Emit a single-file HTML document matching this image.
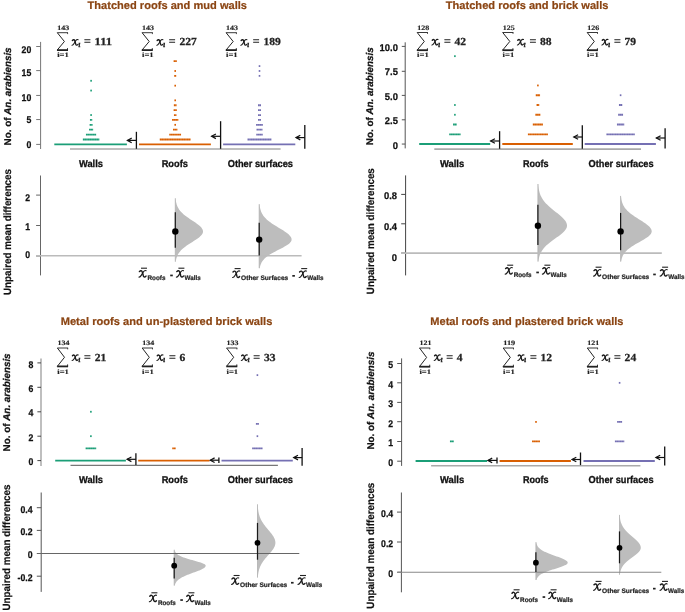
<!DOCTYPE html>
<html><head><meta charset="utf-8"><title>Chart</title>
<style>
html,body{margin:0;padding:0;background:#fff;}
body{width:685px;height:612px;overflow:hidden;font-family:"Liberation Sans", sans-serif;}
svg{display:block;will-change:transform;text-rendering:geometricPrecision;}
</style></head>
<body>
<svg width="685" height="612" viewBox="0 0 685 612">
<rect width="685" height="612" fill="#fff"/>
<text x="87.5" y="8.8" font-family='"Liberation Sans", sans-serif' font-weight="bold" font-size="11" fill="#8b4513" stroke="#8b4513" stroke-width="0.2" textLength="159.5" lengthAdjust="spacingAndGlyphs">Thatched roofs and mud walls</text>
<text transform="translate(10.6,96.4) rotate(-90)" text-anchor="middle" font-family='"Liberation Sans", sans-serif' font-weight="bold" font-size="9.8" fill="#111" stroke="#111" stroke-width="0.25" textLength="98" lengthAdjust="spacingAndGlyphs">No. of <tspan font-style="italic">An. arabiensis</tspan></text>
<line x1="40.6" y1="41.9" x2="40.6" y2="149" stroke="#777" stroke-width="1" />
<line x1="36.2" y1="144.4" x2="40.6" y2="144.4" stroke="#777" stroke-width="1" />
<text transform="translate(31.3,148.45) scale(0.9,1)" text-anchor="end" font-family='"Liberation Sans", sans-serif' font-weight="bold" font-size="9.7" fill="#111" stroke="#111" stroke-width="0.25">0</text>
<line x1="36.2" y1="119.55" x2="40.6" y2="119.55" stroke="#777" stroke-width="1" />
<text transform="translate(31.3,123.15) scale(0.9,1)" text-anchor="end" font-family='"Liberation Sans", sans-serif' font-weight="bold" font-size="9.7" fill="#111" stroke="#111" stroke-width="0.25">5</text>
<line x1="36.2" y1="95.45" x2="40.6" y2="95.45" stroke="#777" stroke-width="1" />
<text transform="translate(31.3,100.55) scale(0.9,1)" text-anchor="end" font-family='"Liberation Sans", sans-serif' font-weight="bold" font-size="9.7" fill="#111" stroke="#111" stroke-width="0.25">10</text>
<line x1="36.2" y1="70.6" x2="40.6" y2="70.6" stroke="#777" stroke-width="1" />
<text transform="translate(31.3,76.3) scale(0.9,1)" text-anchor="end" font-family='"Liberation Sans", sans-serif' font-weight="bold" font-size="9.7" fill="#111" stroke="#111" stroke-width="0.25">15</text>
<line x1="36.2" y1="46.5" x2="40.6" y2="46.5" stroke="#777" stroke-width="1" />
<text transform="translate(31.3,52.7) scale(0.9,1)" text-anchor="end" font-family='"Liberation Sans", sans-serif' font-weight="bold" font-size="9.7" fill="#111" stroke="#111" stroke-width="0.25">20</text>
<path d="M57.3,32.7 L64.4,41.5 L57.2,50.1" fill="none" stroke="#222" stroke-width="1.0"/>
<line x1="57.2" y1="32.7" x2="68" y2="32.7" stroke="#222" stroke-width="0.9"/>
<line x1="67.6" y1="32.7" x2="67.6" y2="34.1" stroke="#222" stroke-width="0.8"/>
<line x1="57" y1="50.1" x2="68" y2="50.1" stroke="#222" stroke-width="1.8"/>
<line x1="67.5" y1="50.1" x2="67.5" y2="48.1" stroke="#222" stroke-width="0.9"/>
<text x="57.3" y="29.7" font-family='"Liberation Serif", serif' font-weight="bold" font-size="6.8" fill="#222" stroke="#222" stroke-width="0.15" textLength="12" lengthAdjust="spacingAndGlyphs">143</text>
<text x="57.2" y="57.3" font-family='"Liberation Serif", serif' font-weight="bold" font-size="6.8" fill="#222" stroke="#222" stroke-width="0.15" textLength="11.6" lengthAdjust="spacingAndGlyphs">i=1</text>
<g transform="translate(71.48,37.57) scale(0.86)"><path d="M1,3.4 C2.2,2 3.6,2.3 4,4.1 L5,7.8 C5.4,9 6.5,9.3 7.6,7.9" fill="none" stroke="#1a1a1a" stroke-width="1.55" stroke-linecap="round"/><path d="M7.7,2.5 C6.6,1.9 5.7,2.6 5,3.6 L3,6.9 C2.3,8.1 1.6,9 0.6,8.9" fill="none" stroke="#1a1a1a" stroke-width="1.25" stroke-linecap="round"/></g>
<text x="78.2" y="47.1" font-family='"Liberation Serif", serif' font-style="italic" font-size="8.5" fill="#222" stroke="#222" stroke-width="0.5">&#x131;</text>
<text x="84" y="45.2" font-family='"Liberation Serif", serif' font-size="12" fill="#222" stroke="#222" stroke-width="0.3">=</text>
<text x="94.6" y="45.4" font-family='"Liberation Serif", serif' font-weight="bold" font-size="10.8" fill="#222" stroke="#222" stroke-width="0.25" textLength="17.4" lengthAdjust="spacingAndGlyphs">111</text>
<path d="M142.1,32.7 L149.2,41.5 L142,50.1" fill="none" stroke="#222" stroke-width="1.0"/>
<line x1="142" y1="32.7" x2="152.8" y2="32.7" stroke="#222" stroke-width="0.9"/>
<line x1="152.4" y1="32.7" x2="152.4" y2="34.1" stroke="#222" stroke-width="0.8"/>
<line x1="141.8" y1="50.1" x2="152.8" y2="50.1" stroke="#222" stroke-width="1.8"/>
<line x1="152.3" y1="50.1" x2="152.3" y2="48.1" stroke="#222" stroke-width="0.9"/>
<text x="142.1" y="29.7" font-family='"Liberation Serif", serif' font-weight="bold" font-size="6.8" fill="#222" stroke="#222" stroke-width="0.15" textLength="12" lengthAdjust="spacingAndGlyphs">143</text>
<text x="142" y="57.3" font-family='"Liberation Serif", serif' font-weight="bold" font-size="6.8" fill="#222" stroke="#222" stroke-width="0.15" textLength="11.6" lengthAdjust="spacingAndGlyphs">i=1</text>
<g transform="translate(156.28,37.57) scale(0.86)"><path d="M1,3.4 C2.2,2 3.6,2.3 4,4.1 L5,7.8 C5.4,9 6.5,9.3 7.6,7.9" fill="none" stroke="#1a1a1a" stroke-width="1.55" stroke-linecap="round"/><path d="M7.7,2.5 C6.6,1.9 5.7,2.6 5,3.6 L3,6.9 C2.3,8.1 1.6,9 0.6,8.9" fill="none" stroke="#1a1a1a" stroke-width="1.25" stroke-linecap="round"/></g>
<text x="163" y="47.1" font-family='"Liberation Serif", serif' font-style="italic" font-size="8.5" fill="#222" stroke="#222" stroke-width="0.5">&#x131;</text>
<text x="168.8" y="45.2" font-family='"Liberation Serif", serif' font-size="12" fill="#222" stroke="#222" stroke-width="0.3">=</text>
<text x="179.4" y="45.4" font-family='"Liberation Serif", serif' font-weight="bold" font-size="10.8" fill="#222" stroke="#222" stroke-width="0.25" textLength="17.4" lengthAdjust="spacingAndGlyphs">227</text>
<path d="M226.1,32.7 L233.2,41.5 L226,50.1" fill="none" stroke="#222" stroke-width="1.0"/>
<line x1="226" y1="32.7" x2="236.8" y2="32.7" stroke="#222" stroke-width="0.9"/>
<line x1="236.4" y1="32.7" x2="236.4" y2="34.1" stroke="#222" stroke-width="0.8"/>
<line x1="225.8" y1="50.1" x2="236.8" y2="50.1" stroke="#222" stroke-width="1.8"/>
<line x1="236.3" y1="50.1" x2="236.3" y2="48.1" stroke="#222" stroke-width="0.9"/>
<text x="226.1" y="29.7" font-family='"Liberation Serif", serif' font-weight="bold" font-size="6.8" fill="#222" stroke="#222" stroke-width="0.15" textLength="12" lengthAdjust="spacingAndGlyphs">143</text>
<text x="226" y="57.3" font-family='"Liberation Serif", serif' font-weight="bold" font-size="6.8" fill="#222" stroke="#222" stroke-width="0.15" textLength="11.6" lengthAdjust="spacingAndGlyphs">i=1</text>
<g transform="translate(240.28,37.57) scale(0.86)"><path d="M1,3.4 C2.2,2 3.6,2.3 4,4.1 L5,7.8 C5.4,9 6.5,9.3 7.6,7.9" fill="none" stroke="#1a1a1a" stroke-width="1.55" stroke-linecap="round"/><path d="M7.7,2.5 C6.6,1.9 5.7,2.6 5,3.6 L3,6.9 C2.3,8.1 1.6,9 0.6,8.9" fill="none" stroke="#1a1a1a" stroke-width="1.25" stroke-linecap="round"/></g>
<text x="247" y="47.1" font-family='"Liberation Serif", serif' font-style="italic" font-size="8.5" fill="#222" stroke="#222" stroke-width="0.5">&#x131;</text>
<text x="252.8" y="45.2" font-family='"Liberation Serif", serif' font-size="12" fill="#222" stroke="#222" stroke-width="0.3">=</text>
<text x="263.4" y="45.4" font-family='"Liberation Serif", serif' font-weight="bold" font-size="10.8" fill="#222" stroke="#222" stroke-width="0.25" textLength="17.4" lengthAdjust="spacingAndGlyphs">189</text>
<line x1="70" y1="149" x2="280.6" y2="149" stroke="#aaa" stroke-width="1.6" />
<line x1="54.3" y1="144.4" x2="126.9" y2="144.4" stroke="#1b9e77" stroke-width="1.9"/>
<line x1="82.85" y1="139.5" x2="99.35" y2="139.5" stroke="#1b9e77" stroke-width="1.8" stroke-dasharray="1.6 0.1"/>
<line x1="85.95" y1="134.61" x2="96.25" y2="134.61" stroke="#1b9e77" stroke-width="1.8" stroke-dasharray="1.6 0.1"/>
<line x1="89.05" y1="129.72" x2="93.15" y2="129.72" stroke="#1b9e77" stroke-width="1.8" stroke-dasharray="1.6 0.1"/>
<line x1="89.6" y1="124.82" x2="92.6" y2="124.82" stroke="#1b9e77" stroke-width="1.8" stroke-dasharray="1.6 0.1"/>
<line x1="89.95" y1="119.93" x2="92.25" y2="119.93" stroke="#1b9e77" stroke-width="1.8" stroke-dasharray="1.6 0.1"/>
<rect x="90.3" y="114.13" width="1.6" height="1.8" fill="#1b9e77"/>
<rect x="90.3" y="89.66" width="1.6" height="1.8" fill="#1b9e77"/>
<rect x="90.3" y="79.87" width="1.6" height="1.8" fill="#1b9e77"/>
<line x1="139" y1="144.4" x2="210.9" y2="144.4" stroke="#d95f02" stroke-width="1.9"/>
<line x1="159.75" y1="139.5" x2="190.65" y2="139.5" stroke="#d95f02" stroke-width="1.8" stroke-dasharray="1.6 0.1"/>
<line x1="169.25" y1="134.61" x2="181.15" y2="134.61" stroke="#d95f02" stroke-width="1.8" stroke-dasharray="1.6 0.1"/>
<line x1="173" y1="129.72" x2="177.4" y2="129.72" stroke="#d95f02" stroke-width="1.8" stroke-dasharray="1.6 0.1"/>
<rect x="174.4" y="123.92" width="1.6" height="1.8" fill="#d95f02"/>
<line x1="172.05" y1="119.93" x2="178.35" y2="119.93" stroke="#d95f02" stroke-width="1.8" stroke-dasharray="1.6 0.1"/>
<line x1="173.95" y1="115.03" x2="176.45" y2="115.03" stroke="#d95f02" stroke-width="1.8" stroke-dasharray="1.6 0.1"/>
<line x1="173.6" y1="110.14" x2="176.8" y2="110.14" stroke="#d95f02" stroke-width="1.8" stroke-dasharray="1.6 0.1"/>
<line x1="173.85" y1="105.24" x2="176.55" y2="105.24" stroke="#d95f02" stroke-width="1.8" stroke-dasharray="1.6 0.1"/>
<rect x="174.4" y="99.45" width="1.6" height="1.8" fill="#d95f02"/>
<rect x="174.4" y="84.76" width="1.6" height="1.8" fill="#d95f02"/>
<rect x="174.2" y="74.97" width="2" height="1.8" fill="#d95f02"/>
<rect x="174.4" y="70.08" width="1.6" height="1.8" fill="#d95f02"/>
<line x1="173.6" y1="61.19" x2="176.8" y2="61.19" stroke="#d95f02" stroke-width="1.8" stroke-dasharray="1.6 0.1"/>
<line x1="223.1" y1="144.4" x2="295.3" y2="144.4" stroke="#7570b3" stroke-width="1.9"/>
<line x1="247.5" y1="139.5" x2="271.5" y2="139.5" stroke="#7570b3" stroke-width="1.8" stroke-dasharray="1.6 0.1"/>
<line x1="256.25" y1="134.61" x2="262.75" y2="134.61" stroke="#7570b3" stroke-width="1.8" stroke-dasharray="1.6 0.1"/>
<line x1="256.5" y1="129.72" x2="262.5" y2="129.72" stroke="#7570b3" stroke-width="1.8" stroke-dasharray="1.6 0.1"/>
<line x1="256.05" y1="124.82" x2="262.95" y2="124.82" stroke="#7570b3" stroke-width="1.8" stroke-dasharray="1.6 0.1"/>
<line x1="258" y1="119.93" x2="261" y2="119.93" stroke="#7570b3" stroke-width="1.8" stroke-dasharray="1.6 0.1"/>
<line x1="258" y1="115.03" x2="261" y2="115.03" stroke="#7570b3" stroke-width="1.8" stroke-dasharray="1.6 0.1"/>
<line x1="258" y1="110.14" x2="261" y2="110.14" stroke="#7570b3" stroke-width="1.8" stroke-dasharray="1.6 0.1"/>
<line x1="258" y1="105.24" x2="261" y2="105.24" stroke="#7570b3" stroke-width="1.8" stroke-dasharray="1.6 0.1"/>
<rect x="258.7" y="74.97" width="1.6" height="1.8" fill="#7570b3"/>
<rect x="258.7" y="70.08" width="1.6" height="1.8" fill="#7570b3"/>
<rect x="258.7" y="65.18" width="1.6" height="1.8" fill="#7570b3"/>
<line x1="136.4" y1="131.8" x2="136.4" y2="148.8" stroke="#111" stroke-width="1.3" />
<line x1="127.4" y1="140.4" x2="136.4" y2="140.4" stroke="#111" stroke-width="1.2" />
<path d="M131.7,138.1 L127.4,140.4 L131.7,142.7" fill="none" stroke="#111" stroke-width="1.2"/>
<line x1="220.6" y1="121.2" x2="220.6" y2="148.8" stroke="#111" stroke-width="1.3" />
<line x1="211.6" y1="136.3" x2="220.6" y2="136.3" stroke="#111" stroke-width="1.2" />
<path d="M215.9,134 L211.6,136.3 L215.9,138.6" fill="none" stroke="#111" stroke-width="1.2"/>
<line x1="304.8" y1="124.9" x2="304.8" y2="148.8" stroke="#111" stroke-width="1.3" />
<line x1="296" y1="137.6" x2="304.8" y2="137.6" stroke="#111" stroke-width="1.2" />
<path d="M300.3,135.3 L296,137.6 L300.3,139.9" fill="none" stroke="#111" stroke-width="1.2"/>
<text x="79" y="167.2" font-family='"Liberation Sans", sans-serif' font-weight="bold" font-size="10" fill="#111" stroke="#111" stroke-width="0.3" textLength="23.9" lengthAdjust="spacingAndGlyphs">Walls</text>
<text x="161.7" y="167.2" font-family='"Liberation Sans", sans-serif' font-weight="bold" font-size="10" fill="#111" stroke="#111" stroke-width="0.3" textLength="26.2" lengthAdjust="spacingAndGlyphs">Roofs</text>
<text x="227.7" y="167.2" font-family='"Liberation Sans", sans-serif' font-weight="bold" font-size="10" fill="#111" stroke="#111" stroke-width="0.3" textLength="65.3" lengthAdjust="spacingAndGlyphs">Other surfaces</text>
<text transform="translate(11.1,232) rotate(-90)" text-anchor="middle" font-family='"Liberation Sans", sans-serif' font-weight="bold" font-size="10.5" fill="#111" stroke="#111" stroke-width="0.2" textLength="126" lengthAdjust="spacingAndGlyphs">Unpaired mean differences</text>
<line x1="40.5" y1="175.5" x2="40.5" y2="275.4" stroke="#666" stroke-width="1" />
<line x1="36.1" y1="195.1" x2="40.5" y2="195.1" stroke="#666" stroke-width="1" />
<text transform="translate(30.2,201.1) scale(0.9,1)" text-anchor="end" font-family='"Liberation Sans", sans-serif' font-weight="bold" font-size="9.7" fill="#111" stroke="#111" stroke-width="0.25">2</text>
<line x1="36.1" y1="225.5" x2="40.5" y2="225.5" stroke="#666" stroke-width="1" />
<text transform="translate(30.2,229.8) scale(0.9,1)" text-anchor="end" font-family='"Liberation Sans", sans-serif' font-weight="bold" font-size="9.7" fill="#111" stroke="#111" stroke-width="0.25">1</text>
<line x1="36.1" y1="256" x2="40.5" y2="256" stroke="#666" stroke-width="1" />
<text transform="translate(30.2,258) scale(0.9,1)" text-anchor="end" font-family='"Liberation Sans", sans-serif' font-weight="bold" font-size="9.7" fill="#111" stroke="#111" stroke-width="0.25">0</text>
<path d="M175.3,198.3 L175.61,198.3 L175.68,199.09 L175.77,199.89 L175.87,200.68 L176,201.47 L176.14,202.26 L176.32,203.06 L176.52,203.85 L176.76,204.64 L177.03,205.43 L177.34,206.23 L177.7,207.02 L178.1,207.81 L178.56,208.6 L179.07,209.4 L179.64,210.19 L180.26,210.98 L180.96,211.77 L181.71,212.56 L182.53,213.36 L183.4,214.15 L184.34,214.94 L185.34,215.74 L186.39,216.53 L187.49,217.32 L188.63,218.11 L189.79,218.91 L190.99,219.7 L192.19,220.49 L193.39,221.28 L194.57,222.07 L195.73,222.87 L196.85,223.66 L197.92,224.45 L198.91,225.25 L199.82,226.04 L200.64,226.83 L201.35,227.62 L201.94,228.41 L202.41,229.21 L202.75,230 L202.94,230.79 L203,231.59 L202.91,232.38 L202.66,233.17 L202.26,233.96 L201.72,234.75 L201.05,235.55 L200.26,236.34 L199.35,237.13 L198.35,237.93 L197.27,238.72 L196.12,239.51 L194.92,240.3 L193.68,241.09 L192.43,241.89 L191.18,242.68 L189.93,243.47 L188.71,244.26 L187.52,245.06 L186.37,245.85 L185.28,246.64 L184.24,247.44 L183.27,248.23 L182.36,249.02 L181.52,249.81 L180.75,250.6 L180.05,251.4 L179.42,252.19 L178.85,252.98 L178.34,253.77 L177.89,254.57 L177.5,255.36 L177.15,256.15 L176.85,256.94 L176.59,257.74 L176.37,258.53 L176.18,259.32 L176.02,260.12 L175.89,260.91 L175.78,261.7 L175.3,261.7 Z" fill="#bdbdbd"/>
<line x1="175.3" y1="198.3" x2="175.3" y2="261.7" stroke="#b0b0b0" stroke-width="0.8" />
<path d="M259.2,204.2 L259.56,204.2 L259.64,205 L259.74,205.8 L259.85,206.6 L259.98,207.4 L260.14,208.2 L260.32,209 L260.54,209.8 L260.78,210.6 L261.06,211.4 L261.39,212.2 L261.75,213 L262.17,213.8 L262.63,214.6 L263.16,215.4 L263.74,216.2 L264.38,217 L265.08,217.8 L265.85,218.6 L266.69,219.4 L267.59,220.2 L268.55,221 L269.59,221.8 L270.68,222.6 L271.83,223.4 L273.03,224.2 L274.27,225 L275.55,225.8 L276.86,226.6 L278.19,227.4 L279.52,228.2 L280.84,229 L282.15,229.8 L283.42,230.6 L284.65,231.4 L285.82,232.2 L286.91,233 L287.91,233.8 L288.82,234.6 L289.61,235.4 L290.28,236.2 L290.82,237 L291.23,237.8 L291.48,238.6 L291.6,239.4 L291.54,240.2 L291.29,241 L290.83,241.8 L290.18,242.6 L289.36,243.4 L288.37,244.2 L287.23,245 L285.97,245.8 L284.6,246.6 L283.15,247.4 L281.64,248.2 L280.09,249 L278.53,249.8 L276.97,250.6 L275.43,251.4 L273.93,252.2 L272.48,253 L271.11,253.8 L269.8,254.6 L268.58,255.4 L267.45,256.2 L266.41,257 L265.46,257.8 L264.6,258.6 L263.83,259.4 L263.14,260.2 L262.53,261 L262,261.8 L261.54,262.6 L261.15,263.4 L260.81,264.2 L260.52,265 L260.27,265.8 L260.07,266.6 L259.9,267.4 L259.76,268.2 L259.2,268.2 Z" fill="#bdbdbd"/>
<line x1="259.2" y1="204.2" x2="259.2" y2="268.2" stroke="#b0b0b0" stroke-width="0.8" />
<line x1="36" y1="255.8" x2="301.6" y2="255.8" stroke="#bbb" stroke-width="1.6" />
<line x1="175.3" y1="212.2" x2="175.3" y2="247.8" stroke="#1a1a1a" stroke-width="1.25" />
<circle cx="175.3" cy="231.5" r="3.2" fill="#000"/>
<line x1="259.2" y1="222.8" x2="259.2" y2="255.5" stroke="#1a1a1a" stroke-width="1.25" />
<circle cx="259.2" cy="239.6" r="3.2" fill="#000"/>
<line x1="141" y1="268.2" x2="147" y2="268.2" stroke="#222" stroke-width="1.1"/>
<g transform="translate(138.4,268.2) scale(1.0)"><path d="M1,3.4 C2.2,2 3.6,2.3 4,4.1 L5,7.8 C5.4,9 6.5,9.3 7.6,7.9" fill="none" stroke="#1a1a1a" stroke-width="1.45" stroke-linecap="round"/><path d="M7.7,2.5 C6.6,1.9 5.7,2.6 5,3.6 L3,6.9 C2.3,8.1 1.6,9 0.6,8.9" fill="none" stroke="#1a1a1a" stroke-width="1.15" stroke-linecap="round"/></g>
<text x="147.5" y="280" font-family='"Liberation Sans", sans-serif' font-weight="bold" font-size="6.6" fill="#222" stroke="#222" stroke-width="0.2" textLength="17.9" lengthAdjust="spacingAndGlyphs">Roofs</text>
<rect x="170.2" y="274.6" width="2.6" height="1.7" fill="#222"/>
<line x1="178.4" y1="268.2" x2="184.4" y2="268.2" stroke="#222" stroke-width="1.1"/>
<g transform="translate(175.8,268.2) scale(1.0)"><path d="M1,3.4 C2.2,2 3.6,2.3 4,4.1 L5,7.8 C5.4,9 6.5,9.3 7.6,7.9" fill="none" stroke="#1a1a1a" stroke-width="1.45" stroke-linecap="round"/><path d="M7.7,2.5 C6.6,1.9 5.7,2.6 5,3.6 L3,6.9 C2.3,8.1 1.6,9 0.6,8.9" fill="none" stroke="#1a1a1a" stroke-width="1.15" stroke-linecap="round"/></g>
<text x="184.5" y="280" font-family='"Liberation Sans", sans-serif' font-weight="bold" font-size="6.6" fill="#222" stroke="#222" stroke-width="0.2" textLength="16.2" lengthAdjust="spacingAndGlyphs">Walls</text>
<line x1="234.6" y1="268.6" x2="240.6" y2="268.6" stroke="#222" stroke-width="1.1"/>
<g transform="translate(232,268.6) scale(1.0)"><path d="M1,3.4 C2.2,2 3.6,2.3 4,4.1 L5,7.8 C5.4,9 6.5,9.3 7.6,7.9" fill="none" stroke="#1a1a1a" stroke-width="1.45" stroke-linecap="round"/><path d="M7.7,2.5 C6.6,1.9 5.7,2.6 5,3.6 L3,6.9 C2.3,8.1 1.6,9 0.6,8.9" fill="none" stroke="#1a1a1a" stroke-width="1.15" stroke-linecap="round"/></g>
<text x="241.1" y="280.4" font-family='"Liberation Sans", sans-serif' font-weight="bold" font-size="6.6" fill="#222" stroke="#222" stroke-width="0.2" textLength="47.1" lengthAdjust="spacingAndGlyphs">Other Surfaces</text>
<rect x="292.3" y="275" width="2.6" height="1.7" fill="#222"/>
<line x1="301.2" y1="268.6" x2="307.2" y2="268.6" stroke="#222" stroke-width="1.1"/>
<g transform="translate(298.6,268.6) scale(1.0)"><path d="M1,3.4 C2.2,2 3.6,2.3 4,4.1 L5,7.8 C5.4,9 6.5,9.3 7.6,7.9" fill="none" stroke="#1a1a1a" stroke-width="1.45" stroke-linecap="round"/><path d="M7.7,2.5 C6.6,1.9 5.7,2.6 5,3.6 L3,6.9 C2.3,8.1 1.6,9 0.6,8.9" fill="none" stroke="#1a1a1a" stroke-width="1.15" stroke-linecap="round"/></g>
<text x="307.3" y="280.4" font-family='"Liberation Sans", sans-serif' font-weight="bold" font-size="6.6" fill="#222" stroke="#222" stroke-width="0.2" textLength="16.2" lengthAdjust="spacingAndGlyphs">Walls</text>
<text x="445.8" y="9" font-family='"Liberation Sans", sans-serif' font-weight="bold" font-size="11" fill="#8b4513" stroke="#8b4513" stroke-width="0.2" textLength="162.6" lengthAdjust="spacingAndGlyphs">Thatched roofs and brick walls</text>
<text transform="translate(373.4,96.2) rotate(-90)" text-anchor="middle" font-family='"Liberation Sans", sans-serif' font-weight="bold" font-size="9.8" fill="#111" stroke="#111" stroke-width="0.25" textLength="98" lengthAdjust="spacingAndGlyphs">No. of <tspan font-style="italic">An. arabiensis</tspan></text>
<line x1="405.2" y1="42.3" x2="405.2" y2="148.4" stroke="#555" stroke-width="1" />
<line x1="401.8" y1="144.05" x2="405.2" y2="144.05" stroke="#555" stroke-width="1" />
<text transform="translate(397.9,148.6) scale(0.97,1)" text-anchor="end" font-family='"Liberation Sans", sans-serif' font-weight="bold" font-size="9.7" fill="#111" stroke="#111" stroke-width="0.25">0</text>
<line x1="401.8" y1="119.8" x2="405.2" y2="119.8" stroke="#555" stroke-width="1" />
<text transform="translate(397.9,123.85) scale(0.97,1)" text-anchor="end" font-family='"Liberation Sans", sans-serif' font-weight="bold" font-size="9.7" fill="#111" stroke="#111" stroke-width="0.25">2.5</text>
<line x1="401.8" y1="95.4" x2="405.2" y2="95.4" stroke="#555" stroke-width="1" />
<text transform="translate(397.9,99.85) scale(0.97,1)" text-anchor="end" font-family='"Liberation Sans", sans-serif' font-weight="bold" font-size="9.7" fill="#111" stroke="#111" stroke-width="0.25">5.0</text>
<line x1="401.8" y1="71.3" x2="405.2" y2="71.3" stroke="#555" stroke-width="1" />
<text transform="translate(397.9,74.7) scale(0.97,1)" text-anchor="end" font-family='"Liberation Sans", sans-serif' font-weight="bold" font-size="9.7" fill="#111" stroke="#111" stroke-width="0.25">7.5</text>
<line x1="401.8" y1="46.4" x2="405.2" y2="46.4" stroke="#555" stroke-width="1" />
<text transform="translate(397.9,50.75) scale(0.97,1)" text-anchor="end" font-family='"Liberation Sans", sans-serif' font-weight="bold" font-size="9.7" fill="#111" stroke="#111" stroke-width="0.25">10.0</text>
<path d="M417.2,32.5 L424.3,41.45 L417.1,50.2" fill="none" stroke="#222" stroke-width="1.0"/>
<line x1="417.1" y1="32.5" x2="427.9" y2="32.5" stroke="#222" stroke-width="0.9"/>
<line x1="427.5" y1="32.5" x2="427.5" y2="33.9" stroke="#222" stroke-width="0.8"/>
<line x1="416.9" y1="50.2" x2="427.9" y2="50.2" stroke="#222" stroke-width="1.8"/>
<line x1="427.4" y1="50.2" x2="427.4" y2="48.2" stroke="#222" stroke-width="0.9"/>
<text x="417.2" y="29.5" font-family='"Liberation Serif", serif' font-weight="bold" font-size="6.8" fill="#222" stroke="#222" stroke-width="0.15" textLength="12" lengthAdjust="spacingAndGlyphs">128</text>
<text x="417.1" y="57.4" font-family='"Liberation Serif", serif' font-weight="bold" font-size="6.8" fill="#222" stroke="#222" stroke-width="0.15" textLength="11.6" lengthAdjust="spacingAndGlyphs">i=1</text>
<g transform="translate(431.38,37.37) scale(0.86)"><path d="M1,3.4 C2.2,2 3.6,2.3 4,4.1 L5,7.8 C5.4,9 6.5,9.3 7.6,7.9" fill="none" stroke="#1a1a1a" stroke-width="1.55" stroke-linecap="round"/><path d="M7.7,2.5 C6.6,1.9 5.7,2.6 5,3.6 L3,6.9 C2.3,8.1 1.6,9 0.6,8.9" fill="none" stroke="#1a1a1a" stroke-width="1.25" stroke-linecap="round"/></g>
<text x="438.1" y="46.9" font-family='"Liberation Serif", serif' font-style="italic" font-size="8.5" fill="#222" stroke="#222" stroke-width="0.5">&#x131;</text>
<text x="443.9" y="45" font-family='"Liberation Serif", serif' font-size="12" fill="#222" stroke="#222" stroke-width="0.3">=</text>
<text x="454.5" y="45.2" font-family='"Liberation Serif", serif' font-weight="bold" font-size="10.8" fill="#222" stroke="#222" stroke-width="0.25" textLength="11.6" lengthAdjust="spacingAndGlyphs">42</text>
<path d="M502.7,32.5 L509.8,41.45 L502.6,50.2" fill="none" stroke="#222" stroke-width="1.0"/>
<line x1="502.6" y1="32.5" x2="513.4" y2="32.5" stroke="#222" stroke-width="0.9"/>
<line x1="513" y1="32.5" x2="513" y2="33.9" stroke="#222" stroke-width="0.8"/>
<line x1="502.4" y1="50.2" x2="513.4" y2="50.2" stroke="#222" stroke-width="1.8"/>
<line x1="512.9" y1="50.2" x2="512.9" y2="48.2" stroke="#222" stroke-width="0.9"/>
<text x="502.7" y="29.5" font-family='"Liberation Serif", serif' font-weight="bold" font-size="6.8" fill="#222" stroke="#222" stroke-width="0.15" textLength="12" lengthAdjust="spacingAndGlyphs">125</text>
<text x="502.6" y="57.4" font-family='"Liberation Serif", serif' font-weight="bold" font-size="6.8" fill="#222" stroke="#222" stroke-width="0.15" textLength="11.6" lengthAdjust="spacingAndGlyphs">i=1</text>
<g transform="translate(516.88,37.37) scale(0.86)"><path d="M1,3.4 C2.2,2 3.6,2.3 4,4.1 L5,7.8 C5.4,9 6.5,9.3 7.6,7.9" fill="none" stroke="#1a1a1a" stroke-width="1.55" stroke-linecap="round"/><path d="M7.7,2.5 C6.6,1.9 5.7,2.6 5,3.6 L3,6.9 C2.3,8.1 1.6,9 0.6,8.9" fill="none" stroke="#1a1a1a" stroke-width="1.25" stroke-linecap="round"/></g>
<text x="523.6" y="46.9" font-family='"Liberation Serif", serif' font-style="italic" font-size="8.5" fill="#222" stroke="#222" stroke-width="0.5">&#x131;</text>
<text x="529.4" y="45" font-family='"Liberation Serif", serif' font-size="12" fill="#222" stroke="#222" stroke-width="0.3">=</text>
<text x="540" y="45.2" font-family='"Liberation Serif", serif' font-weight="bold" font-size="10.8" fill="#222" stroke="#222" stroke-width="0.25" textLength="11.6" lengthAdjust="spacingAndGlyphs">88</text>
<path d="M587.2,32.5 L594.3,41.45 L587.1,50.2" fill="none" stroke="#222" stroke-width="1.0"/>
<line x1="587.1" y1="32.5" x2="597.9" y2="32.5" stroke="#222" stroke-width="0.9"/>
<line x1="597.5" y1="32.5" x2="597.5" y2="33.9" stroke="#222" stroke-width="0.8"/>
<line x1="586.9" y1="50.2" x2="597.9" y2="50.2" stroke="#222" stroke-width="1.8"/>
<line x1="597.4" y1="50.2" x2="597.4" y2="48.2" stroke="#222" stroke-width="0.9"/>
<text x="587.2" y="29.5" font-family='"Liberation Serif", serif' font-weight="bold" font-size="6.8" fill="#222" stroke="#222" stroke-width="0.15" textLength="12" lengthAdjust="spacingAndGlyphs">126</text>
<text x="587.1" y="57.4" font-family='"Liberation Serif", serif' font-weight="bold" font-size="6.8" fill="#222" stroke="#222" stroke-width="0.15" textLength="11.6" lengthAdjust="spacingAndGlyphs">i=1</text>
<g transform="translate(601.38,37.37) scale(0.86)"><path d="M1,3.4 C2.2,2 3.6,2.3 4,4.1 L5,7.8 C5.4,9 6.5,9.3 7.6,7.9" fill="none" stroke="#1a1a1a" stroke-width="1.55" stroke-linecap="round"/><path d="M7.7,2.5 C6.6,1.9 5.7,2.6 5,3.6 L3,6.9 C2.3,8.1 1.6,9 0.6,8.9" fill="none" stroke="#1a1a1a" stroke-width="1.25" stroke-linecap="round"/></g>
<text x="608.1" y="46.9" font-family='"Liberation Serif", serif' font-style="italic" font-size="8.5" fill="#222" stroke="#222" stroke-width="0.5">&#x131;</text>
<text x="613.9" y="45" font-family='"Liberation Serif", serif' font-size="12" fill="#222" stroke="#222" stroke-width="0.3">=</text>
<text x="624.5" y="45.2" font-family='"Liberation Serif", serif' font-weight="bold" font-size="10.8" fill="#222" stroke="#222" stroke-width="0.25" textLength="11.6" lengthAdjust="spacingAndGlyphs">79</text>
<line x1="434.3" y1="149.1" x2="641" y2="149.1" stroke="#aaa" stroke-width="1.6" />
<line x1="419.2" y1="144.05" x2="490.2" y2="144.05" stroke="#1b9e77" stroke-width="1.9"/>
<line x1="449.2" y1="134.29" x2="460.6" y2="134.29" stroke="#1b9e77" stroke-width="1.8" stroke-dasharray="1.6 0.1"/>
<line x1="453.05" y1="124.52" x2="456.75" y2="124.52" stroke="#1b9e77" stroke-width="1.8" stroke-dasharray="1.6 0.1"/>
<rect x="454.1" y="113.86" width="1.6" height="1.8" fill="#1b9e77"/>
<rect x="454.1" y="104.09" width="1.6" height="1.8" fill="#1b9e77"/>
<rect x="454.1" y="55.27" width="1.6" height="1.8" fill="#1b9e77"/>
<line x1="502.3" y1="144.05" x2="572.8" y2="144.05" stroke="#d95f02" stroke-width="1.9"/>
<line x1="527.9" y1="134.29" x2="547.9" y2="134.29" stroke="#d95f02" stroke-width="1.8" stroke-dasharray="1.6 0.1"/>
<line x1="532.8" y1="124.52" x2="543" y2="124.52" stroke="#d95f02" stroke-width="1.8" stroke-dasharray="1.6 0.1"/>
<line x1="535.35" y1="114.76" x2="540.45" y2="114.76" stroke="#d95f02" stroke-width="1.8" stroke-dasharray="1.6 0.1"/>
<line x1="536.55" y1="104.99" x2="539.25" y2="104.99" stroke="#d95f02" stroke-width="1.8" stroke-dasharray="1.6 0.1"/>
<line x1="535.75" y1="95.23" x2="540.05" y2="95.23" stroke="#d95f02" stroke-width="1.8" stroke-dasharray="1.6 0.1"/>
<rect x="537.1" y="84.56" width="1.6" height="1.8" fill="#d95f02"/>
<line x1="584.7" y1="144.05" x2="655.9" y2="144.05" stroke="#7570b3" stroke-width="1.9"/>
<line x1="606.4" y1="134.29" x2="634.8" y2="134.29" stroke="#7570b3" stroke-width="1.8" stroke-dasharray="1.6 0.1"/>
<line x1="616.95" y1="124.52" x2="624.25" y2="124.52" stroke="#7570b3" stroke-width="1.8" stroke-dasharray="1.6 0.1"/>
<line x1="618.15" y1="114.76" x2="623.05" y2="114.76" stroke="#7570b3" stroke-width="1.8" stroke-dasharray="1.6 0.1"/>
<line x1="618.95" y1="104.99" x2="622.25" y2="104.99" stroke="#7570b3" stroke-width="1.8" stroke-dasharray="1.6 0.1"/>
<rect x="619.8" y="94.33" width="1.6" height="1.8" fill="#7570b3"/>
<line x1="499.6" y1="131.2" x2="499.6" y2="148.8" stroke="#111" stroke-width="1.3" />
<line x1="490.6" y1="141" x2="499.6" y2="141" stroke="#111" stroke-width="1.2" />
<path d="M494.9,138.7 L490.6,141 L494.9,143.3" fill="none" stroke="#111" stroke-width="1.2"/>
<line x1="582.3" y1="125.3" x2="582.3" y2="148.8" stroke="#111" stroke-width="1.3" />
<line x1="573.8" y1="137" x2="582.3" y2="137" stroke="#111" stroke-width="1.2" />
<path d="M578.1,134.7 L573.8,137 L578.1,139.3" fill="none" stroke="#111" stroke-width="1.2"/>
<line x1="665.1" y1="128.2" x2="665.1" y2="148.4" stroke="#111" stroke-width="1.3" />
<line x1="656.3" y1="138" x2="665.1" y2="138" stroke="#111" stroke-width="1.2" />
<path d="M660.6,135.7 L656.3,138 L660.6,140.3" fill="none" stroke="#111" stroke-width="1.2"/>
<text x="440" y="166.9" font-family='"Liberation Sans", sans-serif' font-weight="bold" font-size="10" fill="#111" stroke="#111" stroke-width="0.3" textLength="24.2" lengthAdjust="spacingAndGlyphs">Walls</text>
<text x="522.9" y="166.9" font-family='"Liberation Sans", sans-serif' font-weight="bold" font-size="10" fill="#111" stroke="#111" stroke-width="0.3" textLength="25.6" lengthAdjust="spacingAndGlyphs">Roofs</text>
<text x="588.6" y="166.9" font-family='"Liberation Sans", sans-serif' font-weight="bold" font-size="10" fill="#111" stroke="#111" stroke-width="0.3" textLength="65" lengthAdjust="spacingAndGlyphs">Other surfaces</text>
<text transform="translate(374,231.2) rotate(-90)" text-anchor="middle" font-family='"Liberation Sans", sans-serif' font-weight="bold" font-size="10.5" fill="#111" stroke="#111" stroke-width="0.2" textLength="126" lengthAdjust="spacingAndGlyphs">Unpaired mean differences</text>
<line x1="405.6" y1="175.4" x2="405.6" y2="275.4" stroke="#444" stroke-width="1" />
<line x1="401.2" y1="194.4" x2="405.6" y2="194.4" stroke="#444" stroke-width="1" />
<text transform="translate(397,199.1) scale(0.97,1)" text-anchor="end" font-family='"Liberation Sans", sans-serif' font-weight="bold" font-size="9.7" fill="#111" stroke="#111" stroke-width="0.25">0.8</text>
<line x1="401.2" y1="223.8" x2="405.6" y2="223.8" stroke="#444" stroke-width="1" />
<text transform="translate(397,229.5) scale(0.97,1)" text-anchor="end" font-family='"Liberation Sans", sans-serif' font-weight="bold" font-size="9.7" fill="#111" stroke="#111" stroke-width="0.25">0.4</text>
<line x1="401.2" y1="253" x2="405.6" y2="253" stroke="#444" stroke-width="1" />
<text transform="translate(397,260.7) scale(0.97,1)" text-anchor="end" font-family='"Liberation Sans", sans-serif' font-weight="bold" font-size="9.7" fill="#111" stroke="#111" stroke-width="0.25">0</text>
<path d="M537.9,184 L538.22,184 L538.3,184.97 L538.39,185.94 L538.49,186.91 L538.62,187.88 L538.77,188.85 L538.94,189.82 L539.14,190.79 L539.38,191.76 L539.65,192.73 L539.96,193.7 L540.31,194.67 L540.71,195.64 L541.16,196.61 L541.66,197.58 L542.22,198.55 L542.84,199.52 L543.52,200.49 L544.26,201.46 L545.07,202.43 L545.94,203.4 L546.87,204.37 L547.85,205.34 L548.9,206.31 L549.99,207.28 L551.13,208.25 L552.31,209.22 L553.51,210.19 L554.74,211.16 L555.97,212.13 L557.2,213.1 L558.41,214.07 L559.59,215.04 L560.72,216.01 L561.8,216.98 L562.81,217.95 L563.74,218.92 L564.57,219.89 L565.29,220.86 L565.89,221.83 L566.37,222.8 L566.72,223.77 L566.93,224.74 L567,225.71 L566.91,226.68 L566.65,227.65 L566.23,228.62 L565.64,229.59 L564.91,230.56 L564.04,231.53 L563.05,232.5 L561.96,233.47 L560.77,234.44 L559.52,235.41 L558.21,236.38 L556.87,237.35 L555.52,238.32 L554.16,239.29 L552.82,240.26 L551.51,241.23 L550.24,242.2 L549.02,243.17 L547.87,244.14 L546.78,245.11 L545.76,246.08 L544.82,247.05 L543.96,248.02 L543.17,248.99 L542.45,249.96 L541.82,250.93 L541.25,251.9 L540.74,252.87 L540.3,253.84 L539.91,254.81 L539.58,255.78 L539.29,256.75 L539.05,257.72 L538.84,258.69 L538.67,259.66 L538.52,260.63 L538.4,261.6 L537.9,261.6 Z" fill="#bdbdbd"/>
<line x1="537.9" y1="184" x2="537.9" y2="261.6" stroke="#b0b0b0" stroke-width="0.8" />
<path d="M620.6,195.9 L620.95,195.9 L621.02,196.72 L621.12,197.54 L621.23,198.36 L621.36,199.19 L621.52,200.01 L621.7,200.83 L621.92,201.65 L622.17,202.47 L622.45,203.29 L622.78,204.11 L623.15,204.93 L623.57,205.75 L624.04,206.58 L624.58,207.4 L625.16,208.22 L625.82,209.04 L626.53,209.86 L627.32,210.68 L628.17,211.5 L629.08,212.33 L630.06,213.15 L631.11,213.97 L632.21,214.79 L633.37,215.61 L634.57,216.43 L635.82,217.25 L637.1,218.07 L638.39,218.9 L639.7,219.72 L641.01,220.54 L642.3,221.36 L643.56,222.18 L644.78,223 L645.93,223.82 L647.02,224.64 L648.02,225.47 L648.93,226.29 L649.72,227.11 L650.39,227.93 L650.93,228.75 L651.33,229.57 L651.59,230.39 L651.7,231.21 L651.64,232.04 L651.41,232.86 L650.99,233.68 L650.4,234.5 L649.64,235.32 L648.74,236.14 L647.7,236.96 L646.54,237.78 L645.28,238.61 L643.94,239.43 L642.55,240.25 L641.11,241.07 L639.65,241.89 L638.19,242.71 L636.75,243.53 L635.33,244.35 L633.96,245.18 L632.64,246 L631.39,246.82 L630.21,247.64 L629.11,248.46 L628.09,249.28 L627.15,250.1 L626.3,250.92 L625.52,251.75 L624.83,252.57 L624.21,253.39 L623.67,254.21 L623.19,255.03 L622.77,255.85 L622.41,256.67 L622.1,257.49 L621.84,258.32 L621.61,259.14 L621.42,259.96 L621.27,260.78 L621.14,261.6 L620.6,261.6 Z" fill="#bdbdbd"/>
<line x1="620.6" y1="195.9" x2="620.6" y2="261.6" stroke="#b0b0b0" stroke-width="0.8" />
<line x1="401" y1="253.1" x2="661.8" y2="253.1" stroke="#bbb" stroke-width="1.6" />
<line x1="537.9" y1="204.7" x2="537.9" y2="244.9" stroke="#1a1a1a" stroke-width="1.25" />
<circle cx="537.9" cy="225.7" r="3.2" fill="#000"/>
<line x1="620.6" y1="212.9" x2="620.6" y2="250.2" stroke="#1a1a1a" stroke-width="1.25" />
<circle cx="620.6" cy="231.4" r="3.2" fill="#000"/>
<line x1="507.2" y1="265.2" x2="513.2" y2="265.2" stroke="#222" stroke-width="1.1"/>
<g transform="translate(504.6,265.2) scale(1.0)"><path d="M1,3.4 C2.2,2 3.6,2.3 4,4.1 L5,7.8 C5.4,9 6.5,9.3 7.6,7.9" fill="none" stroke="#1a1a1a" stroke-width="1.45" stroke-linecap="round"/><path d="M7.7,2.5 C6.6,1.9 5.7,2.6 5,3.6 L3,6.9 C2.3,8.1 1.6,9 0.6,8.9" fill="none" stroke="#1a1a1a" stroke-width="1.15" stroke-linecap="round"/></g>
<text x="513.7" y="277" font-family='"Liberation Sans", sans-serif' font-weight="bold" font-size="6.6" fill="#222" stroke="#222" stroke-width="0.2" textLength="17.9" lengthAdjust="spacingAndGlyphs">Roofs</text>
<rect x="536.3" y="271.6" width="2.6" height="1.7" fill="#222"/>
<line x1="544.4" y1="265.2" x2="550.4" y2="265.2" stroke="#222" stroke-width="1.1"/>
<g transform="translate(541.8,265.2) scale(1.0)"><path d="M1,3.4 C2.2,2 3.6,2.3 4,4.1 L5,7.8 C5.4,9 6.5,9.3 7.6,7.9" fill="none" stroke="#1a1a1a" stroke-width="1.45" stroke-linecap="round"/><path d="M7.7,2.5 C6.6,1.9 5.7,2.6 5,3.6 L3,6.9 C2.3,8.1 1.6,9 0.6,8.9" fill="none" stroke="#1a1a1a" stroke-width="1.15" stroke-linecap="round"/></g>
<text x="550.5" y="277" font-family='"Liberation Sans", sans-serif' font-weight="bold" font-size="6.6" fill="#222" stroke="#222" stroke-width="0.2" textLength="16.2" lengthAdjust="spacingAndGlyphs">Walls</text>
<line x1="595.6" y1="267.2" x2="601.6" y2="267.2" stroke="#222" stroke-width="1.1"/>
<g transform="translate(593,267.2) scale(1.0)"><path d="M1,3.4 C2.2,2 3.6,2.3 4,4.1 L5,7.8 C5.4,9 6.5,9.3 7.6,7.9" fill="none" stroke="#1a1a1a" stroke-width="1.45" stroke-linecap="round"/><path d="M7.7,2.5 C6.6,1.9 5.7,2.6 5,3.6 L3,6.9 C2.3,8.1 1.6,9 0.6,8.9" fill="none" stroke="#1a1a1a" stroke-width="1.15" stroke-linecap="round"/></g>
<text x="602.1" y="279" font-family='"Liberation Sans", sans-serif' font-weight="bold" font-size="6.6" fill="#222" stroke="#222" stroke-width="0.2" textLength="47.1" lengthAdjust="spacingAndGlyphs">Other Surfaces</text>
<rect x="653.2" y="273.6" width="2.6" height="1.7" fill="#222"/>
<line x1="662.1" y1="267.2" x2="668.1" y2="267.2" stroke="#222" stroke-width="1.1"/>
<g transform="translate(659.5,267.2) scale(1.0)"><path d="M1,3.4 C2.2,2 3.6,2.3 4,4.1 L5,7.8 C5.4,9 6.5,9.3 7.6,7.9" fill="none" stroke="#1a1a1a" stroke-width="1.45" stroke-linecap="round"/><path d="M7.7,2.5 C6.6,1.9 5.7,2.6 5,3.6 L3,6.9 C2.3,8.1 1.6,9 0.6,8.9" fill="none" stroke="#1a1a1a" stroke-width="1.15" stroke-linecap="round"/></g>
<text x="668.2" y="279" font-family='"Liberation Sans", sans-serif' font-weight="bold" font-size="6.6" fill="#222" stroke="#222" stroke-width="0.2" textLength="16.2" lengthAdjust="spacingAndGlyphs">Walls</text>
<text x="60.7" y="325" font-family='"Liberation Sans", sans-serif' font-weight="bold" font-size="11" fill="#8b4513" stroke="#8b4513" stroke-width="0.2" textLength="211.7" lengthAdjust="spacingAndGlyphs">Metal roofs and un-plastered brick walls</text>
<text transform="translate(9.5,402.4) rotate(-90)" text-anchor="middle" font-family='"Liberation Sans", sans-serif' font-weight="bold" font-size="9.8" fill="#111" stroke="#111" stroke-width="0.25" textLength="98" lengthAdjust="spacingAndGlyphs">No. of <tspan font-style="italic">An. arabiensis</tspan></text>
<line x1="41" y1="358.4" x2="41" y2="465.9" stroke="#aaa" stroke-width="1.5" />
<line x1="37.4" y1="460.6" x2="41" y2="460.6" stroke="#444" stroke-width="1" />
<text transform="translate(33.4,465.2) scale(0.9,1)" text-anchor="end" font-family='"Liberation Sans", sans-serif' font-weight="bold" font-size="9.7" fill="#111" stroke="#111" stroke-width="0.25">0</text>
<line x1="37.4" y1="436.2" x2="41" y2="436.2" stroke="#444" stroke-width="1" />
<text transform="translate(33.4,440.8) scale(0.9,1)" text-anchor="end" font-family='"Liberation Sans", sans-serif' font-weight="bold" font-size="9.7" fill="#111" stroke="#111" stroke-width="0.25">2</text>
<line x1="37.4" y1="411.8" x2="41" y2="411.8" stroke="#444" stroke-width="1" />
<text transform="translate(33.4,416.3) scale(0.9,1)" text-anchor="end" font-family='"Liberation Sans", sans-serif' font-weight="bold" font-size="9.7" fill="#111" stroke="#111" stroke-width="0.25">4</text>
<line x1="37.4" y1="387.3" x2="41" y2="387.3" stroke="#444" stroke-width="1" />
<text transform="translate(33.4,391.9) scale(0.9,1)" text-anchor="end" font-family='"Liberation Sans", sans-serif' font-weight="bold" font-size="9.7" fill="#111" stroke="#111" stroke-width="0.25">6</text>
<line x1="37.4" y1="362.9" x2="41" y2="362.9" stroke="#444" stroke-width="1" />
<text transform="translate(33.4,367.5) scale(0.9,1)" text-anchor="end" font-family='"Liberation Sans", sans-serif' font-weight="bold" font-size="9.7" fill="#111" stroke="#111" stroke-width="0.25">8</text>
<path d="M57.4,348 L64.5,357.3 L57.3,366.4" fill="none" stroke="#222" stroke-width="1.0"/>
<line x1="57.3" y1="348" x2="68.1" y2="348" stroke="#222" stroke-width="0.9"/>
<line x1="67.7" y1="348" x2="67.7" y2="349.4" stroke="#222" stroke-width="0.8"/>
<line x1="57.1" y1="366.4" x2="68.1" y2="366.4" stroke="#222" stroke-width="1.8"/>
<line x1="67.6" y1="366.4" x2="67.6" y2="364.4" stroke="#222" stroke-width="0.9"/>
<text x="57.4" y="345" font-family='"Liberation Serif", serif' font-weight="bold" font-size="6.8" fill="#222" stroke="#222" stroke-width="0.15" textLength="12" lengthAdjust="spacingAndGlyphs">134</text>
<text x="57.3" y="373.6" font-family='"Liberation Serif", serif' font-weight="bold" font-size="6.8" fill="#222" stroke="#222" stroke-width="0.15" textLength="11.6" lengthAdjust="spacingAndGlyphs">i=1</text>
<g transform="translate(71.58,352.87) scale(0.86)"><path d="M1,3.4 C2.2,2 3.6,2.3 4,4.1 L5,7.8 C5.4,9 6.5,9.3 7.6,7.9" fill="none" stroke="#1a1a1a" stroke-width="1.55" stroke-linecap="round"/><path d="M7.7,2.5 C6.6,1.9 5.7,2.6 5,3.6 L3,6.9 C2.3,8.1 1.6,9 0.6,8.9" fill="none" stroke="#1a1a1a" stroke-width="1.25" stroke-linecap="round"/></g>
<text x="78.3" y="362.4" font-family='"Liberation Serif", serif' font-style="italic" font-size="8.5" fill="#222" stroke="#222" stroke-width="0.5">&#x131;</text>
<text x="84.1" y="360.5" font-family='"Liberation Serif", serif' font-size="12" fill="#222" stroke="#222" stroke-width="0.3">=</text>
<text x="94.7" y="360.7" font-family='"Liberation Serif", serif' font-weight="bold" font-size="10.8" fill="#222" stroke="#222" stroke-width="0.25" textLength="11.6" lengthAdjust="spacingAndGlyphs">21</text>
<path d="M142.2,348 L149.3,357.3 L142.1,366.4" fill="none" stroke="#222" stroke-width="1.0"/>
<line x1="142.1" y1="348" x2="152.9" y2="348" stroke="#222" stroke-width="0.9"/>
<line x1="152.5" y1="348" x2="152.5" y2="349.4" stroke="#222" stroke-width="0.8"/>
<line x1="141.9" y1="366.4" x2="152.9" y2="366.4" stroke="#222" stroke-width="1.8"/>
<line x1="152.4" y1="366.4" x2="152.4" y2="364.4" stroke="#222" stroke-width="0.9"/>
<text x="142.2" y="345" font-family='"Liberation Serif", serif' font-weight="bold" font-size="6.8" fill="#222" stroke="#222" stroke-width="0.15" textLength="12" lengthAdjust="spacingAndGlyphs">134</text>
<text x="142.1" y="373.6" font-family='"Liberation Serif", serif' font-weight="bold" font-size="6.8" fill="#222" stroke="#222" stroke-width="0.15" textLength="11.6" lengthAdjust="spacingAndGlyphs">i=1</text>
<g transform="translate(156.38,352.87) scale(0.86)"><path d="M1,3.4 C2.2,2 3.6,2.3 4,4.1 L5,7.8 C5.4,9 6.5,9.3 7.6,7.9" fill="none" stroke="#1a1a1a" stroke-width="1.55" stroke-linecap="round"/><path d="M7.7,2.5 C6.6,1.9 5.7,2.6 5,3.6 L3,6.9 C2.3,8.1 1.6,9 0.6,8.9" fill="none" stroke="#1a1a1a" stroke-width="1.25" stroke-linecap="round"/></g>
<text x="163.1" y="362.4" font-family='"Liberation Serif", serif' font-style="italic" font-size="8.5" fill="#222" stroke="#222" stroke-width="0.5">&#x131;</text>
<text x="168.9" y="360.5" font-family='"Liberation Serif", serif' font-size="12" fill="#222" stroke="#222" stroke-width="0.3">=</text>
<text x="179.5" y="360.7" font-family='"Liberation Serif", serif' font-weight="bold" font-size="10.8" fill="#222" stroke="#222" stroke-width="0.25" textLength="5.8" lengthAdjust="spacingAndGlyphs">6</text>
<path d="M226.6,348 L233.7,357.3 L226.5,366.4" fill="none" stroke="#222" stroke-width="1.0"/>
<line x1="226.5" y1="348" x2="237.3" y2="348" stroke="#222" stroke-width="0.9"/>
<line x1="236.9" y1="348" x2="236.9" y2="349.4" stroke="#222" stroke-width="0.8"/>
<line x1="226.3" y1="366.4" x2="237.3" y2="366.4" stroke="#222" stroke-width="1.8"/>
<line x1="236.8" y1="366.4" x2="236.8" y2="364.4" stroke="#222" stroke-width="0.9"/>
<text x="226.6" y="345" font-family='"Liberation Serif", serif' font-weight="bold" font-size="6.8" fill="#222" stroke="#222" stroke-width="0.15" textLength="12" lengthAdjust="spacingAndGlyphs">133</text>
<text x="226.5" y="373.6" font-family='"Liberation Serif", serif' font-weight="bold" font-size="6.8" fill="#222" stroke="#222" stroke-width="0.15" textLength="11.6" lengthAdjust="spacingAndGlyphs">i=1</text>
<g transform="translate(240.78,352.87) scale(0.86)"><path d="M1,3.4 C2.2,2 3.6,2.3 4,4.1 L5,7.8 C5.4,9 6.5,9.3 7.6,7.9" fill="none" stroke="#1a1a1a" stroke-width="1.55" stroke-linecap="round"/><path d="M7.7,2.5 C6.6,1.9 5.7,2.6 5,3.6 L3,6.9 C2.3,8.1 1.6,9 0.6,8.9" fill="none" stroke="#1a1a1a" stroke-width="1.25" stroke-linecap="round"/></g>
<text x="247.5" y="362.4" font-family='"Liberation Serif", serif' font-style="italic" font-size="8.5" fill="#222" stroke="#222" stroke-width="0.5">&#x131;</text>
<text x="253.3" y="360.5" font-family='"Liberation Serif", serif' font-size="12" fill="#222" stroke="#222" stroke-width="0.3">=</text>
<text x="263.9" y="360.7" font-family='"Liberation Serif", serif' font-weight="bold" font-size="10.8" fill="#222" stroke="#222" stroke-width="0.25" textLength="11.6" lengthAdjust="spacingAndGlyphs">33</text>
<line x1="70.5" y1="465.4" x2="277.9" y2="465.4" stroke="#777" stroke-width="1.2" />
<line x1="55.2" y1="460.6" x2="125.9" y2="460.6" stroke="#1b9e77" stroke-width="1.9"/>
<line x1="85.6" y1="448.39" x2="96.2" y2="448.39" stroke="#1b9e77" stroke-width="1.8" stroke-dasharray="1.6 0.1"/>
<rect x="90.1" y="435.28" width="1.6" height="1.8" fill="#1b9e77"/>
<rect x="90.1" y="410.86" width="1.6" height="1.8" fill="#1b9e77"/>
<line x1="138.2" y1="460.6" x2="209.6" y2="460.6" stroke="#d95f02" stroke-width="1.9"/>
<line x1="172.25" y1="448.39" x2="175.75" y2="448.39" stroke="#d95f02" stroke-width="1.8" stroke-dasharray="1.6 0.1"/>
<line x1="221.5" y1="460.6" x2="292.8" y2="460.6" stroke="#7570b3" stroke-width="1.9"/>
<line x1="252.15" y1="448.39" x2="262.65" y2="448.39" stroke="#7570b3" stroke-width="1.8" stroke-dasharray="1.6 0.1"/>
<rect x="256.6" y="435.28" width="1.6" height="1.8" fill="#7570b3"/>
<line x1="255.9" y1="423.97" x2="258.9" y2="423.97" stroke="#7570b3" stroke-width="1.8" stroke-dasharray="1.6 0.1"/>
<rect x="256.6" y="374.23" width="1.6" height="1.8" fill="#7570b3"/>
<line x1="135.9" y1="453.2" x2="135.9" y2="464.9" stroke="#111" stroke-width="1.3" />
<line x1="127.1" y1="459.3" x2="135.9" y2="459.3" stroke="#111" stroke-width="1.2" />
<path d="M131.4,457 L127.1,459.3 L131.4,461.6" fill="none" stroke="#111" stroke-width="1.2"/>
<line x1="218.9" y1="457.6" x2="218.9" y2="462.9" stroke="#111" stroke-width="1.3" />
<line x1="210.3" y1="460.2" x2="218.9" y2="460.2" stroke="#111" stroke-width="1.2" />
<path d="M214.6,457.9 L210.3,460.2 L214.6,462.5" fill="none" stroke="#111" stroke-width="1.2"/>
<line x1="302.1" y1="448" x2="302.1" y2="465.8" stroke="#111" stroke-width="1.3" />
<line x1="293.7" y1="457.6" x2="302.1" y2="457.6" stroke="#111" stroke-width="1.2" />
<path d="M298,455.3 L293.7,457.6 L298,459.9" fill="none" stroke="#111" stroke-width="1.2"/>
<text x="79" y="483.3" font-family='"Liberation Sans", sans-serif' font-weight="bold" font-size="10" fill="#111" stroke="#111" stroke-width="0.3" textLength="23.9" lengthAdjust="spacingAndGlyphs">Walls</text>
<text x="161.7" y="483.3" font-family='"Liberation Sans", sans-serif' font-weight="bold" font-size="10" fill="#111" stroke="#111" stroke-width="0.3" textLength="26.2" lengthAdjust="spacingAndGlyphs">Roofs</text>
<text x="227.7" y="483.3" font-family='"Liberation Sans", sans-serif' font-weight="bold" font-size="10" fill="#111" stroke="#111" stroke-width="0.3" textLength="65.3" lengthAdjust="spacingAndGlyphs">Other surfaces</text>
<text transform="translate(10,547.5) rotate(-90)" text-anchor="middle" font-family='"Liberation Sans", sans-serif' font-weight="bold" font-size="10.5" fill="#111" stroke="#111" stroke-width="0.2" textLength="126" lengthAdjust="spacingAndGlyphs">Unpaired mean differences</text>
<line x1="41.2" y1="492.5" x2="41.2" y2="591.9" stroke="#555" stroke-width="1" />
<line x1="36.8" y1="507.7" x2="41.2" y2="507.7" stroke="#555" stroke-width="1" />
<text transform="translate(32.6,512.6) scale(0.9,1)" text-anchor="end" font-family='"Liberation Sans", sans-serif' font-weight="bold" font-size="9.7" fill="#111" stroke="#111" stroke-width="0.25">0.4</text>
<line x1="36.8" y1="530.4" x2="41.2" y2="530.4" stroke="#555" stroke-width="1" />
<text transform="translate(32.6,534.5) scale(0.9,1)" text-anchor="end" font-family='"Liberation Sans", sans-serif' font-weight="bold" font-size="9.7" fill="#111" stroke="#111" stroke-width="0.25">0.2</text>
<line x1="36.8" y1="553.5" x2="41.2" y2="553.5" stroke="#555" stroke-width="1" />
<text transform="translate(32.6,558) scale(0.9,1)" text-anchor="end" font-family='"Liberation Sans", sans-serif' font-weight="bold" font-size="9.7" fill="#111" stroke="#111" stroke-width="0.25">0</text>
<line x1="36.8" y1="576.2" x2="41.2" y2="576.2" stroke="#555" stroke-width="1" />
<text transform="translate(32.6,580.8) scale(0.9,1)" text-anchor="end" font-family='"Liberation Sans", sans-serif' font-weight="bold" font-size="9.7" fill="#111" stroke="#111" stroke-width="0.25">-0.2</text>
<path d="M174.2,549.8 L174.55,549.8 L174.65,550.25 L174.77,550.69 L174.92,551.14 L175.11,551.59 L175.34,552.04 L175.61,552.49 L175.93,552.93 L176.31,553.38 L176.76,553.83 L177.29,554.27 L177.89,554.72 L178.58,555.17 L179.36,555.62 L180.23,556.06 L181.21,556.51 L182.29,556.96 L183.46,557.41 L184.73,557.86 L186.09,558.3 L187.53,558.75 L189.04,559.2 L190.6,559.64 L192.2,560.09 L193.81,560.54 L195.41,560.99 L196.99,561.43 L198.5,561.88 L199.93,562.33 L201.26,562.78 L202.45,563.23 L203.48,563.67 L204.33,564.12 L204.99,564.57 L205.44,565.01 L205.67,565.46 L205.69,565.91 L205.56,566.36 L205.31,566.8 L204.93,567.25 L204.43,567.7 L203.82,568.15 L203.11,568.6 L202.29,569.04 L201.39,569.49 L200.4,569.94 L199.35,570.38 L198.24,570.83 L197.09,571.28 L195.9,571.73 L194.69,572.17 L193.47,572.62 L192.25,573.07 L191.03,573.52 L189.83,573.97 L188.66,574.41 L187.52,574.86 L186.42,575.31 L185.37,575.75 L184.36,576.2 L183.41,576.65 L182.51,577.1 L181.67,577.54 L180.89,577.99 L180.16,578.44 L179.49,578.89 L178.88,579.34 L178.32,579.78 L177.81,580.23 L177.36,580.68 L176.95,581.12 L176.58,581.57 L176.25,582.02 L175.96,582.47 L175.71,582.91 L175.48,583.36 L175.29,583.81 L175.12,584.26 L174.98,584.71 L174.85,585.15 L174.74,585.6 L174.2,585.6 Z" fill="#bdbdbd"/>
<line x1="174.2" y1="549.8" x2="174.2" y2="585.6" stroke="#b0b0b0" stroke-width="0.8" />
<path d="M257.5,504.3 L257.7,504.3 L257.75,505.22 L257.8,506.13 L257.87,507.05 L257.95,507.97 L258.04,508.88 L258.16,509.8 L258.29,510.71 L258.44,511.63 L258.61,512.55 L258.81,513.46 L259.04,514.38 L259.3,515.29 L259.59,516.21 L259.92,517.13 L260.28,518.04 L260.69,518.96 L261.13,519.88 L261.61,520.79 L262.14,521.71 L262.7,522.62 L263.31,523.54 L263.95,524.46 L264.62,525.37 L265.32,526.29 L266.06,527.21 L266.81,528.12 L267.57,529.04 L268.35,529.96 L269.12,530.87 L269.89,531.79 L270.64,532.7 L271.36,533.62 L272.05,534.54 L272.69,535.45 L273.29,536.37 L273.82,537.28 L274.29,538.2 L274.68,539.12 L274.99,540.03 L275.21,540.95 L275.35,541.87 L275.4,542.78 L275.35,543.7 L275.2,544.62 L274.96,545.53 L274.62,546.45 L274.19,547.36 L273.69,548.28 L273.11,549.2 L272.46,550.11 L271.76,551.03 L271.02,551.95 L270.25,552.86 L269.45,553.78 L268.64,554.69 L267.82,555.61 L267.02,556.53 L266.22,557.44 L265.45,558.36 L264.7,559.27 L263.99,560.19 L263.32,561.11 L262.68,562.02 L262.09,562.94 L261.55,563.86 L261.05,564.77 L260.59,565.69 L260.18,566.61 L259.81,567.52 L259.48,568.44 L259.18,569.35 L258.93,570.27 L258.7,571.19 L258.51,572.1 L258.34,573.02 L258.19,573.94 L258.07,574.85 L257.97,575.77 L257.88,576.68 L257.81,577.6 L257.5,577.6 Z" fill="#bdbdbd"/>
<line x1="257.5" y1="504.3" x2="257.5" y2="577.6" stroke="#b0b0b0" stroke-width="0.8" />
<line x1="37.1" y1="553.5" x2="299.3" y2="553.5" stroke="#666" stroke-width="1" />
<line x1="174.2" y1="557.7" x2="174.2" y2="578.6" stroke="#1a1a1a" stroke-width="1.25" />
<circle cx="174.2" cy="565.7" r="2.9" fill="#000"/>
<line x1="257.5" y1="522.9" x2="257.5" y2="559.7" stroke="#1a1a1a" stroke-width="1.25" />
<circle cx="257.5" cy="542.8" r="2.9" fill="#000"/>
<line x1="151.4" y1="592.8" x2="157.4" y2="592.8" stroke="#222" stroke-width="1.1"/>
<g transform="translate(148.8,592.8) scale(1.0)"><path d="M1,3.4 C2.2,2 3.6,2.3 4,4.1 L5,7.8 C5.4,9 6.5,9.3 7.6,7.9" fill="none" stroke="#1a1a1a" stroke-width="1.45" stroke-linecap="round"/><path d="M7.7,2.5 C6.6,1.9 5.7,2.6 5,3.6 L3,6.9 C2.3,8.1 1.6,9 0.6,8.9" fill="none" stroke="#1a1a1a" stroke-width="1.15" stroke-linecap="round"/></g>
<text x="157.9" y="604.6" font-family='"Liberation Sans", sans-serif' font-weight="bold" font-size="6.6" fill="#222" stroke="#222" stroke-width="0.2" textLength="17.9" lengthAdjust="spacingAndGlyphs">Roofs</text>
<rect x="180.3" y="599.2" width="2.6" height="1.7" fill="#222"/>
<line x1="188.4" y1="592.8" x2="194.4" y2="592.8" stroke="#222" stroke-width="1.1"/>
<g transform="translate(185.8,592.8) scale(1.0)"><path d="M1,3.4 C2.2,2 3.6,2.3 4,4.1 L5,7.8 C5.4,9 6.5,9.3 7.6,7.9" fill="none" stroke="#1a1a1a" stroke-width="1.45" stroke-linecap="round"/><path d="M7.7,2.5 C6.6,1.9 5.7,2.6 5,3.6 L3,6.9 C2.3,8.1 1.6,9 0.6,8.9" fill="none" stroke="#1a1a1a" stroke-width="1.15" stroke-linecap="round"/></g>
<text x="194.5" y="604.6" font-family='"Liberation Sans", sans-serif' font-weight="bold" font-size="6.6" fill="#222" stroke="#222" stroke-width="0.2" textLength="16.2" lengthAdjust="spacingAndGlyphs">Walls</text>
<line x1="233.6" y1="575.5" x2="239.6" y2="575.5" stroke="#222" stroke-width="1.1"/>
<g transform="translate(231,575.5) scale(1.0)"><path d="M1,3.4 C2.2,2 3.6,2.3 4,4.1 L5,7.8 C5.4,9 6.5,9.3 7.6,7.9" fill="none" stroke="#1a1a1a" stroke-width="1.45" stroke-linecap="round"/><path d="M7.7,2.5 C6.6,1.9 5.7,2.6 5,3.6 L3,6.9 C2.3,8.1 1.6,9 0.6,8.9" fill="none" stroke="#1a1a1a" stroke-width="1.15" stroke-linecap="round"/></g>
<text x="240.1" y="587.3" font-family='"Liberation Sans", sans-serif' font-weight="bold" font-size="6.6" fill="#222" stroke="#222" stroke-width="0.2" textLength="47.1" lengthAdjust="spacingAndGlyphs">Other Surfaces</text>
<rect x="291" y="581.9" width="2.6" height="1.7" fill="#222"/>
<line x1="300" y1="575.5" x2="306" y2="575.5" stroke="#222" stroke-width="1.1"/>
<g transform="translate(297.4,575.5) scale(1.0)"><path d="M1,3.4 C2.2,2 3.6,2.3 4,4.1 L5,7.8 C5.4,9 6.5,9.3 7.6,7.9" fill="none" stroke="#1a1a1a" stroke-width="1.45" stroke-linecap="round"/><path d="M7.7,2.5 C6.6,1.9 5.7,2.6 5,3.6 L3,6.9 C2.3,8.1 1.6,9 0.6,8.9" fill="none" stroke="#1a1a1a" stroke-width="1.15" stroke-linecap="round"/></g>
<text x="306.1" y="587.3" font-family='"Liberation Sans", sans-serif' font-weight="bold" font-size="6.6" fill="#222" stroke="#222" stroke-width="0.2" textLength="16.2" lengthAdjust="spacingAndGlyphs">Walls</text>
<text x="430.3" y="325.2" font-family='"Liberation Sans", sans-serif' font-weight="bold" font-size="11" fill="#8b4513" stroke="#8b4513" stroke-width="0.2" textLength="193.2" lengthAdjust="spacingAndGlyphs">Metal roofs and plastered brick walls</text>
<text transform="translate(373.9,400.6) rotate(-90)" text-anchor="middle" font-family='"Liberation Sans", sans-serif' font-weight="bold" font-size="9.8" fill="#111" stroke="#111" stroke-width="0.25" textLength="98" lengthAdjust="spacingAndGlyphs">No. of <tspan font-style="italic">An. arabiensis</tspan></text>
<line x1="401.6" y1="358.4" x2="401.6" y2="465.9" stroke="#555" stroke-width="1" />
<line x1="397.2" y1="461.2" x2="401.6" y2="461.2" stroke="#555" stroke-width="1" />
<text transform="translate(393,465.8) scale(0.9,1)" text-anchor="end" font-family='"Liberation Sans", sans-serif' font-weight="bold" font-size="9.7" fill="#111" stroke="#111" stroke-width="0.25">0</text>
<line x1="397.2" y1="441.5" x2="401.6" y2="441.5" stroke="#555" stroke-width="1" />
<text transform="translate(393,445.8) scale(0.9,1)" text-anchor="end" font-family='"Liberation Sans", sans-serif' font-weight="bold" font-size="9.7" fill="#111" stroke="#111" stroke-width="0.25">1</text>
<line x1="397.2" y1="421.7" x2="401.6" y2="421.7" stroke="#555" stroke-width="1" />
<text transform="translate(393,426.7) scale(0.9,1)" text-anchor="end" font-family='"Liberation Sans", sans-serif' font-weight="bold" font-size="9.7" fill="#111" stroke="#111" stroke-width="0.25">2</text>
<line x1="397.2" y1="402.4" x2="401.6" y2="402.4" stroke="#555" stroke-width="1" />
<text transform="translate(393,406.9) scale(0.9,1)" text-anchor="end" font-family='"Liberation Sans", sans-serif' font-weight="bold" font-size="9.7" fill="#111" stroke="#111" stroke-width="0.25">3</text>
<line x1="397.2" y1="382.8" x2="401.6" y2="382.8" stroke="#555" stroke-width="1" />
<text transform="translate(393,387.6) scale(0.9,1)" text-anchor="end" font-family='"Liberation Sans", sans-serif' font-weight="bold" font-size="9.7" fill="#111" stroke="#111" stroke-width="0.25">4</text>
<line x1="397.2" y1="363.5" x2="401.6" y2="363.5" stroke="#555" stroke-width="1" />
<text transform="translate(393,367.5) scale(0.9,1)" text-anchor="end" font-family='"Liberation Sans", sans-serif' font-weight="bold" font-size="9.7" fill="#111" stroke="#111" stroke-width="0.25">5</text>
<path d="M419.5,348 L426.6,357.45 L419.4,366.7" fill="none" stroke="#222" stroke-width="1.0"/>
<line x1="419.4" y1="348" x2="430.2" y2="348" stroke="#222" stroke-width="0.9"/>
<line x1="429.8" y1="348" x2="429.8" y2="349.4" stroke="#222" stroke-width="0.8"/>
<line x1="419.2" y1="366.7" x2="430.2" y2="366.7" stroke="#222" stroke-width="1.8"/>
<line x1="429.7" y1="366.7" x2="429.7" y2="364.7" stroke="#222" stroke-width="0.9"/>
<text x="419.5" y="345" font-family='"Liberation Serif", serif' font-weight="bold" font-size="6.8" fill="#222" stroke="#222" stroke-width="0.15" textLength="12" lengthAdjust="spacingAndGlyphs">121</text>
<text x="419.4" y="373.9" font-family='"Liberation Serif", serif' font-weight="bold" font-size="6.8" fill="#222" stroke="#222" stroke-width="0.15" textLength="11.6" lengthAdjust="spacingAndGlyphs">i=1</text>
<g transform="translate(433.68,352.87) scale(0.86)"><path d="M1,3.4 C2.2,2 3.6,2.3 4,4.1 L5,7.8 C5.4,9 6.5,9.3 7.6,7.9" fill="none" stroke="#1a1a1a" stroke-width="1.55" stroke-linecap="round"/><path d="M7.7,2.5 C6.6,1.9 5.7,2.6 5,3.6 L3,6.9 C2.3,8.1 1.6,9 0.6,8.9" fill="none" stroke="#1a1a1a" stroke-width="1.25" stroke-linecap="round"/></g>
<text x="440.4" y="362.4" font-family='"Liberation Serif", serif' font-style="italic" font-size="8.5" fill="#222" stroke="#222" stroke-width="0.5">&#x131;</text>
<text x="446.2" y="360.5" font-family='"Liberation Serif", serif' font-size="12" fill="#222" stroke="#222" stroke-width="0.3">=</text>
<text x="456.8" y="360.7" font-family='"Liberation Serif", serif' font-weight="bold" font-size="10.8" fill="#222" stroke="#222" stroke-width="0.25" textLength="5.8" lengthAdjust="spacingAndGlyphs">4</text>
<path d="M503.2,348 L510.3,357.45 L503.1,366.7" fill="none" stroke="#222" stroke-width="1.0"/>
<line x1="503.1" y1="348" x2="513.9" y2="348" stroke="#222" stroke-width="0.9"/>
<line x1="513.5" y1="348" x2="513.5" y2="349.4" stroke="#222" stroke-width="0.8"/>
<line x1="502.9" y1="366.7" x2="513.9" y2="366.7" stroke="#222" stroke-width="1.8"/>
<line x1="513.4" y1="366.7" x2="513.4" y2="364.7" stroke="#222" stroke-width="0.9"/>
<text x="503.2" y="345" font-family='"Liberation Serif", serif' font-weight="bold" font-size="6.8" fill="#222" stroke="#222" stroke-width="0.15" textLength="12" lengthAdjust="spacingAndGlyphs">119</text>
<text x="503.1" y="373.9" font-family='"Liberation Serif", serif' font-weight="bold" font-size="6.8" fill="#222" stroke="#222" stroke-width="0.15" textLength="11.6" lengthAdjust="spacingAndGlyphs">i=1</text>
<g transform="translate(517.38,352.87) scale(0.86)"><path d="M1,3.4 C2.2,2 3.6,2.3 4,4.1 L5,7.8 C5.4,9 6.5,9.3 7.6,7.9" fill="none" stroke="#1a1a1a" stroke-width="1.55" stroke-linecap="round"/><path d="M7.7,2.5 C6.6,1.9 5.7,2.6 5,3.6 L3,6.9 C2.3,8.1 1.6,9 0.6,8.9" fill="none" stroke="#1a1a1a" stroke-width="1.25" stroke-linecap="round"/></g>
<text x="524.1" y="362.4" font-family='"Liberation Serif", serif' font-style="italic" font-size="8.5" fill="#222" stroke="#222" stroke-width="0.5">&#x131;</text>
<text x="529.9" y="360.5" font-family='"Liberation Serif", serif' font-size="12" fill="#222" stroke="#222" stroke-width="0.3">=</text>
<text x="540.5" y="360.7" font-family='"Liberation Serif", serif' font-weight="bold" font-size="10.8" fill="#222" stroke="#222" stroke-width="0.25" textLength="11.6" lengthAdjust="spacingAndGlyphs">12</text>
<path d="M587.3,348 L594.4,357.45 L587.2,366.7" fill="none" stroke="#222" stroke-width="1.0"/>
<line x1="587.2" y1="348" x2="598" y2="348" stroke="#222" stroke-width="0.9"/>
<line x1="597.6" y1="348" x2="597.6" y2="349.4" stroke="#222" stroke-width="0.8"/>
<line x1="587" y1="366.7" x2="598" y2="366.7" stroke="#222" stroke-width="1.8"/>
<line x1="597.5" y1="366.7" x2="597.5" y2="364.7" stroke="#222" stroke-width="0.9"/>
<text x="587.3" y="345" font-family='"Liberation Serif", serif' font-weight="bold" font-size="6.8" fill="#222" stroke="#222" stroke-width="0.15" textLength="12" lengthAdjust="spacingAndGlyphs">121</text>
<text x="587.2" y="373.9" font-family='"Liberation Serif", serif' font-weight="bold" font-size="6.8" fill="#222" stroke="#222" stroke-width="0.15" textLength="11.6" lengthAdjust="spacingAndGlyphs">i=1</text>
<g transform="translate(601.48,352.87) scale(0.86)"><path d="M1,3.4 C2.2,2 3.6,2.3 4,4.1 L5,7.8 C5.4,9 6.5,9.3 7.6,7.9" fill="none" stroke="#1a1a1a" stroke-width="1.55" stroke-linecap="round"/><path d="M7.7,2.5 C6.6,1.9 5.7,2.6 5,3.6 L3,6.9 C2.3,8.1 1.6,9 0.6,8.9" fill="none" stroke="#1a1a1a" stroke-width="1.25" stroke-linecap="round"/></g>
<text x="608.2" y="362.4" font-family='"Liberation Serif", serif' font-style="italic" font-size="8.5" fill="#222" stroke="#222" stroke-width="0.5">&#x131;</text>
<text x="614" y="360.5" font-family='"Liberation Serif", serif' font-size="12" fill="#222" stroke="#222" stroke-width="0.3">=</text>
<text x="624.6" y="360.7" font-family='"Liberation Serif", serif' font-weight="bold" font-size="10.8" fill="#222" stroke="#222" stroke-width="0.25" textLength="11.6" lengthAdjust="spacingAndGlyphs">24</text>
<line x1="431.1" y1="465.7" x2="640.4" y2="465.7" stroke="#aaa" stroke-width="1.6" />
<line x1="415.6" y1="461" x2="487.1" y2="461" stroke="#1b9e77" stroke-width="1.9"/>
<line x1="449.95" y1="441.46" x2="453.85" y2="441.46" stroke="#1b9e77" stroke-width="1.8" stroke-dasharray="1.6 0.1"/>
<line x1="499.6" y1="461" x2="570.9" y2="461" stroke="#d95f02" stroke-width="1.9"/>
<line x1="532.05" y1="441.46" x2="539.95" y2="441.46" stroke="#d95f02" stroke-width="1.8" stroke-dasharray="1.6 0.1"/>
<rect x="535.2" y="421.02" width="1.6" height="1.8" fill="#d95f02"/>
<line x1="583.5" y1="461" x2="654.8" y2="461" stroke="#7570b3" stroke-width="1.9"/>
<line x1="614.9" y1="441.46" x2="624.3" y2="441.46" stroke="#7570b3" stroke-width="1.8" stroke-dasharray="1.6 0.1"/>
<line x1="617.1" y1="421.92" x2="622.1" y2="421.92" stroke="#7570b3" stroke-width="1.8" stroke-dasharray="1.6 0.1"/>
<rect x="618.8" y="381.94" width="1.6" height="1.8" fill="#7570b3"/>
<line x1="497" y1="457.4" x2="497" y2="463.4" stroke="#111" stroke-width="1.3" />
<line x1="487.9" y1="460.4" x2="497" y2="460.4" stroke="#111" stroke-width="1.2" />
<path d="M492.2,458.1 L487.9,460.4 L492.2,462.7" fill="none" stroke="#111" stroke-width="1.2"/>
<line x1="580.5" y1="452.5" x2="580.5" y2="465.1" stroke="#111" stroke-width="1.3" />
<line x1="572" y1="459.5" x2="580.5" y2="459.5" stroke="#111" stroke-width="1.2" />
<path d="M576.3,457.2 L572,459.5 L576.3,461.8" fill="none" stroke="#111" stroke-width="1.2"/>
<line x1="664.7" y1="446.4" x2="664.7" y2="465.6" stroke="#111" stroke-width="1.3" />
<line x1="655.9" y1="457.5" x2="664.7" y2="457.5" stroke="#111" stroke-width="1.2" />
<path d="M660.2,455.2 L655.9,457.5 L660.2,459.8" fill="none" stroke="#111" stroke-width="1.2"/>
<text x="440" y="482.9" font-family='"Liberation Sans", sans-serif' font-weight="bold" font-size="10" fill="#111" stroke="#111" stroke-width="0.3" textLength="24.2" lengthAdjust="spacingAndGlyphs">Walls</text>
<text x="522.9" y="482.9" font-family='"Liberation Sans", sans-serif' font-weight="bold" font-size="10" fill="#111" stroke="#111" stroke-width="0.3" textLength="25.6" lengthAdjust="spacingAndGlyphs">Roofs</text>
<text x="588.6" y="482.9" font-family='"Liberation Sans", sans-serif' font-weight="bold" font-size="10" fill="#111" stroke="#111" stroke-width="0.3" textLength="65" lengthAdjust="spacingAndGlyphs">Other surfaces</text>
<text transform="translate(373.9,545.7) rotate(-90)" text-anchor="middle" font-family='"Liberation Sans", sans-serif' font-weight="bold" font-size="10.5" fill="#111" stroke="#111" stroke-width="0.2" textLength="126" lengthAdjust="spacingAndGlyphs">Unpaired mean differences</text>
<line x1="401.4" y1="492.5" x2="401.4" y2="592.3" stroke="#555" stroke-width="1" />
<line x1="397" y1="512.1" x2="401.4" y2="512.1" stroke="#555" stroke-width="1" />
<text transform="translate(393.2,516.5) scale(0.9,1)" text-anchor="end" font-family='"Liberation Sans", sans-serif' font-weight="bold" font-size="9.7" fill="#111" stroke="#111" stroke-width="0.25">0.4</text>
<line x1="397" y1="542" x2="401.4" y2="542" stroke="#555" stroke-width="1" />
<text transform="translate(393.2,546.6) scale(0.9,1)" text-anchor="end" font-family='"Liberation Sans", sans-serif' font-weight="bold" font-size="9.7" fill="#111" stroke="#111" stroke-width="0.25">0.2</text>
<line x1="397" y1="572.2" x2="401.4" y2="572.2" stroke="#555" stroke-width="1" />
<text transform="translate(393.2,576.9) scale(0.9,1)" text-anchor="end" font-family='"Liberation Sans", sans-serif' font-weight="bold" font-size="9.7" fill="#111" stroke="#111" stroke-width="0.25">0</text>
<path d="M535.9,542.2 L536.25,542.2 L536.33,542.67 L536.43,543.15 L536.54,543.62 L536.68,544.09 L536.84,544.56 L537.03,545.04 L537.24,545.51 L537.49,545.98 L537.78,546.45 L538.11,546.93 L538.49,547.4 L538.92,547.87 L539.4,548.34 L539.94,548.82 L540.53,549.29 L541.19,549.76 L541.92,550.23 L542.71,550.71 L543.57,551.18 L544.5,551.65 L545.5,552.12 L546.56,552.6 L547.67,553.07 L548.85,553.54 L550.07,554.01 L551.34,554.49 L552.64,554.96 L553.96,555.43 L555.29,555.9 L556.62,556.38 L557.94,556.85 L559.23,557.32 L560.47,557.79 L561.66,558.26 L562.78,558.74 L563.81,559.21 L564.75,559.68 L565.57,560.15 L566.27,560.63 L566.84,561.1 L567.27,561.57 L567.55,562.05 L567.69,562.52 L567.66,562.99 L567.45,563.46 L567.05,563.94 L566.47,564.41 L565.71,564.88 L564.8,565.35 L563.75,565.83 L562.58,566.3 L561.3,566.77 L559.93,567.24 L558.51,567.72 L557.03,568.19 L555.54,568.66 L554.04,569.13 L552.55,569.61 L551.09,570.08 L549.68,570.55 L548.32,571.02 L547.03,571.5 L545.81,571.97 L544.68,572.44 L543.62,572.91 L542.65,573.38 L541.77,573.86 L540.97,574.33 L540.26,574.8 L539.62,575.27 L539.06,575.75 L538.56,576.22 L538.13,576.69 L537.76,577.16 L537.44,577.64 L537.17,578.11 L536.94,578.58 L536.74,579.05 L536.58,579.53 L536.45,580 L535.9,580 Z" fill="#bdbdbd"/>
<line x1="535.9" y1="542.2" x2="535.9" y2="580" stroke="#b0b0b0" stroke-width="0.8" />
<path d="M619.5,514.9 L619.74,514.9 L619.79,515.65 L619.85,516.39 L619.93,517.14 L620.02,517.89 L620.12,518.64 L620.24,519.38 L620.38,520.13 L620.55,520.88 L620.73,521.63 L620.95,522.38 L621.19,523.12 L621.47,523.87 L621.78,524.62 L622.13,525.37 L622.51,526.11 L622.94,526.86 L623.41,527.61 L623.92,528.36 L624.48,529.1 L625.08,529.85 L625.72,530.6 L626.41,531.35 L627.14,532.09 L627.9,532.84 L628.7,533.59 L629.52,534.34 L630.37,535.08 L631.24,535.83 L632.12,536.58 L633,537.33 L633.87,538.07 L634.73,538.82 L635.57,539.57 L636.37,540.32 L637.14,541.06 L637.85,541.81 L638.5,542.56 L639.08,543.31 L639.59,544.05 L640.02,544.8 L640.36,545.55 L640.6,546.3 L640.75,547.04 L640.8,547.79 L640.74,548.54 L640.54,549.28 L640.21,550.03 L639.76,550.78 L639.2,551.53 L638.54,552.27 L637.78,553.02 L636.94,553.77 L636.03,554.52 L635.08,555.26 L634.09,556.01 L633.07,556.76 L632.05,557.51 L631.03,558.25 L630.03,559 L629.06,559.75 L628.12,560.5 L627.22,561.25 L626.38,561.99 L625.59,562.74 L624.85,563.49 L624.18,564.24 L623.56,564.98 L623.01,565.73 L622.51,566.48 L622.06,567.23 L621.67,567.97 L621.33,568.72 L621.03,569.47 L620.77,570.22 L620.55,570.96 L620.36,571.71 L620.2,572.46 L620.07,573.21 L619.96,573.95 L619.87,574.7 L619.5,574.7 Z" fill="#bdbdbd"/>
<line x1="619.5" y1="514.9" x2="619.5" y2="574.7" stroke="#b0b0b0" stroke-width="0.8" />
<line x1="397.9" y1="572.3" x2="661.3" y2="572.3" stroke="#888" stroke-width="1.1" />
<line x1="535.9" y1="552.2" x2="535.9" y2="572.1" stroke="#1a1a1a" stroke-width="1.25" />
<circle cx="535.9" cy="562.7" r="2.9" fill="#000"/>
<line x1="619.5" y1="531.4" x2="619.5" y2="563.3" stroke="#1a1a1a" stroke-width="1.25" />
<circle cx="619.5" cy="547.8" r="2.9" fill="#000"/>
<line x1="513.6" y1="589.8" x2="519.6" y2="589.8" stroke="#222" stroke-width="1.1"/>
<g transform="translate(511,589.8) scale(1.0)"><path d="M1,3.4 C2.2,2 3.6,2.3 4,4.1 L5,7.8 C5.4,9 6.5,9.3 7.6,7.9" fill="none" stroke="#1a1a1a" stroke-width="1.45" stroke-linecap="round"/><path d="M7.7,2.5 C6.6,1.9 5.7,2.6 5,3.6 L3,6.9 C2.3,8.1 1.6,9 0.6,8.9" fill="none" stroke="#1a1a1a" stroke-width="1.15" stroke-linecap="round"/></g>
<text x="520.1" y="601.6" font-family='"Liberation Sans", sans-serif' font-weight="bold" font-size="6.6" fill="#222" stroke="#222" stroke-width="0.2" textLength="17.9" lengthAdjust="spacingAndGlyphs">Roofs</text>
<rect x="542.6" y="596.2" width="2.6" height="1.7" fill="#222"/>
<line x1="550.6" y1="589.8" x2="556.6" y2="589.8" stroke="#222" stroke-width="1.1"/>
<g transform="translate(548,589.8) scale(1.0)"><path d="M1,3.4 C2.2,2 3.6,2.3 4,4.1 L5,7.8 C5.4,9 6.5,9.3 7.6,7.9" fill="none" stroke="#1a1a1a" stroke-width="1.45" stroke-linecap="round"/><path d="M7.7,2.5 C6.6,1.9 5.7,2.6 5,3.6 L3,6.9 C2.3,8.1 1.6,9 0.6,8.9" fill="none" stroke="#1a1a1a" stroke-width="1.15" stroke-linecap="round"/></g>
<text x="556.7" y="601.6" font-family='"Liberation Sans", sans-serif' font-weight="bold" font-size="6.6" fill="#222" stroke="#222" stroke-width="0.2" textLength="16.2" lengthAdjust="spacingAndGlyphs">Walls</text>
<line x1="595.6" y1="581.4" x2="601.6" y2="581.4" stroke="#222" stroke-width="1.1"/>
<g transform="translate(593,581.4) scale(1.0)"><path d="M1,3.4 C2.2,2 3.6,2.3 4,4.1 L5,7.8 C5.4,9 6.5,9.3 7.6,7.9" fill="none" stroke="#1a1a1a" stroke-width="1.45" stroke-linecap="round"/><path d="M7.7,2.5 C6.6,1.9 5.7,2.6 5,3.6 L3,6.9 C2.3,8.1 1.6,9 0.6,8.9" fill="none" stroke="#1a1a1a" stroke-width="1.15" stroke-linecap="round"/></g>
<text x="602.1" y="593.2" font-family='"Liberation Sans", sans-serif' font-weight="bold" font-size="6.6" fill="#222" stroke="#222" stroke-width="0.2" textLength="47.1" lengthAdjust="spacingAndGlyphs">Other Surfaces</text>
<rect x="653" y="587.8" width="2.6" height="1.7" fill="#222"/>
<line x1="662" y1="581.4" x2="668" y2="581.4" stroke="#222" stroke-width="1.1"/>
<g transform="translate(659.4,581.4) scale(1.0)"><path d="M1,3.4 C2.2,2 3.6,2.3 4,4.1 L5,7.8 C5.4,9 6.5,9.3 7.6,7.9" fill="none" stroke="#1a1a1a" stroke-width="1.45" stroke-linecap="round"/><path d="M7.7,2.5 C6.6,1.9 5.7,2.6 5,3.6 L3,6.9 C2.3,8.1 1.6,9 0.6,8.9" fill="none" stroke="#1a1a1a" stroke-width="1.15" stroke-linecap="round"/></g>
<text x="668.1" y="593.2" font-family='"Liberation Sans", sans-serif' font-weight="bold" font-size="6.6" fill="#222" stroke="#222" stroke-width="0.2" textLength="16.2" lengthAdjust="spacingAndGlyphs">Walls</text>
</svg>
</body></html>
